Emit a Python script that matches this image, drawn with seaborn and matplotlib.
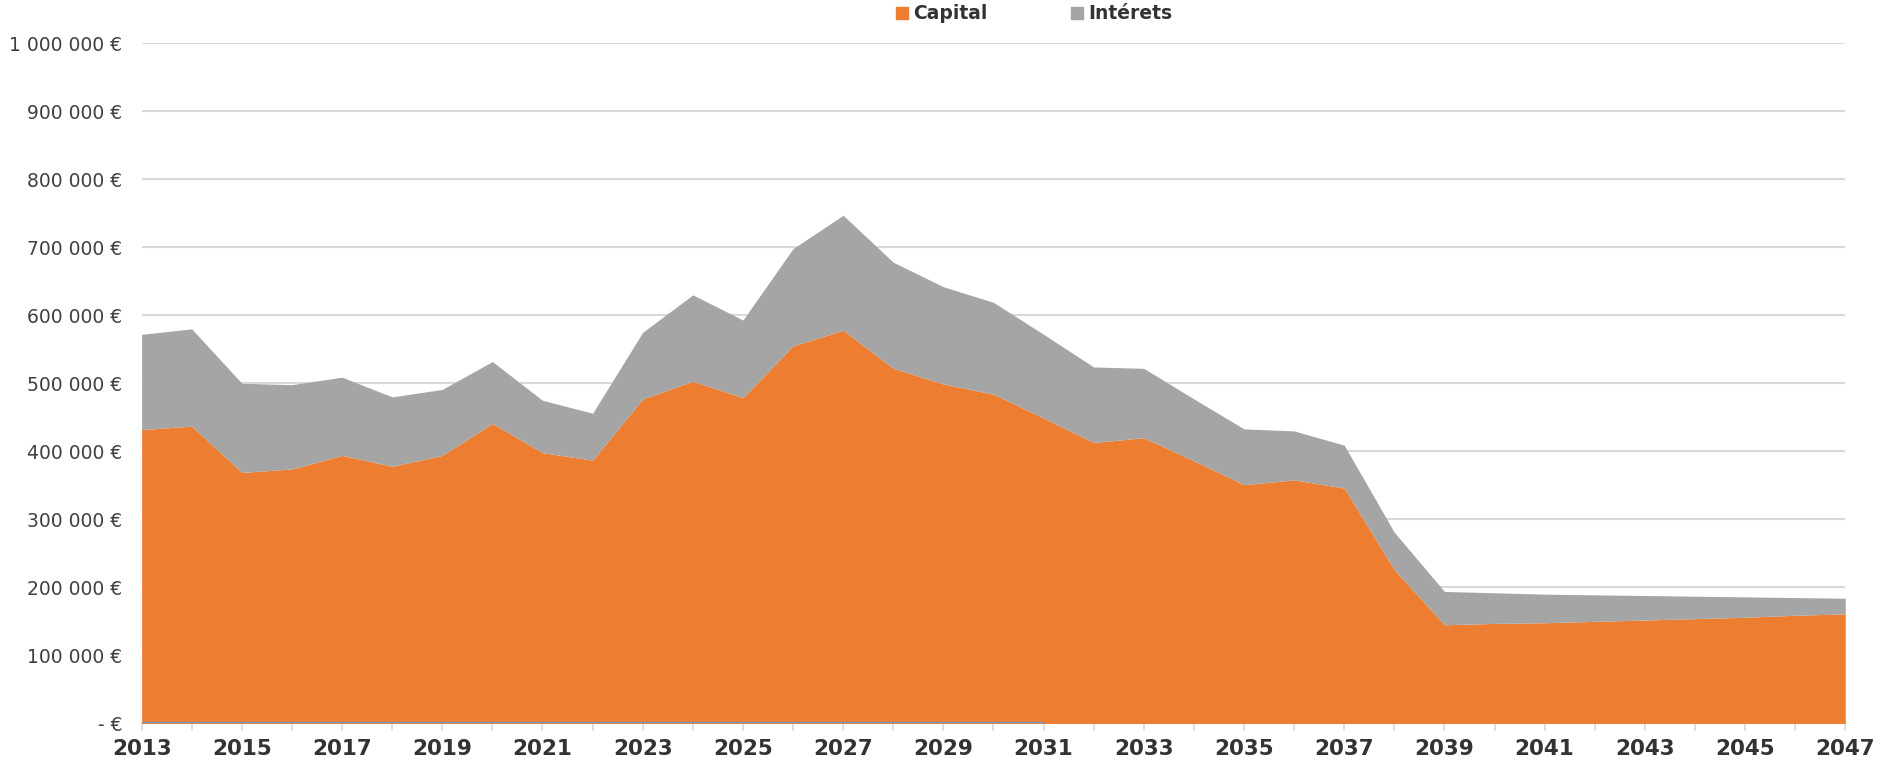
"""Stacked area: Capital / Intérets per year, 2013-2047"""

import numpy as np
import pandas as pd
import matplotlib

matplotlib.use("Agg")
import matplotlib.pyplot as plt
import matplotlib.ticker as mtick
from matplotlib.lines import Line2D
import seaborn as sns

##### data ####################################################################
years = list(range(2013, 2048))
capital = [
    432000, 437000, 369000, 374000, 394000, 378000, 394000, 441000, 398000,
    387000, 477000, 503000, 479000, 555000, 578000, 522000, 499000, 484000,
    449000, 413000, 420000, 386000, 351000, 358000, 346000, 226000, 145000,
    147000, 148000, 150000, 152000, 154000, 156000, 159000, 161000,
]
interets = [
    140000, 143000, 131000, 124000, 115000, 102000, 97000, 91000, 77000,
    69000, 98000, 127000, 114000, 143000, 169000, 156000, 143000, 135000,
    123000, 111000, 102000, 91000, 82000, 72000, 63000, 55000, 49000,
    45000, 42000, 39000, 36000, 33000, 30000, 26000, 23000,
]
# third series shown only as a flat blue line at zero up to 2031
autre_years = list(range(2013, 2032))
autre = [0] * len(autre_years)

COLOR_CAPITAL = "#ED7D31"
COLOR_INTERETS = "#A5A5A5"
COLOR_AUTRE = "#5B9BD5"
TEXT_COLOR = "#404040"


def euro_fmt(v, pos):
    if v == 0:
        return "- €"
    return f"{int(v):,} €".replace(",", " ")


def main():
    df = pd.DataFrame({"annee": years, "Capital": capital, "Intérets": interets})
    df_autre = pd.DataFrame({"annee": autre_years, "valeur": autre})

    sns.set_theme(style="white")
    plt.rcParams["font.family"] = ["DejaVu Sans"]

    fig = plt.figure(figsize=(18.81, 7.63), dpi=100)
    ax = fig.add_axes([0.0753, 0.0519, 0.9057, 0.8915])

    ax.stackplot(
        df["annee"],
        df["Capital"],
        df["Intérets"],
        colors=[COLOR_CAPITAL, COLOR_INTERETS],
        linewidth=0,
        zorder=2,
    )
    sns.lineplot(
        data=df_autre, x="annee", y="valeur", color=COLOR_AUTRE,
        linewidth=1.5, ax=ax, zorder=3,
    )

    ax.set_xlim(2013, 2047)
    ax.set_ylim(0, 1000000)
    ax.yaxis.set_major_locator(mtick.MultipleLocator(100000))
    ax.yaxis.set_major_formatter(mtick.FuncFormatter(euro_fmt))
    ax.set_xticks(years, minor=True)
    ax.set_xticks(years[::2])
    ax.set_xticklabels([str(y) for y in years[::2]])

    # grid + spines
    ax.grid(which="major", axis="y", color="#D9D9D9", linewidth=1.5, zorder=0)
    ax.set_axisbelow(True)
    sns.despine(ax=ax, left=True)
    ax.spines["bottom"].set_color("#D9D9D9")
    ax.spines["bottom"].set_linewidth(1.5)
    ax.spines["bottom"].set_zorder(1)

    ax.tick_params(axis="y", length=0, pad=14, labelsize=13.5, labelcolor=TEXT_COLOR)
    ax.tick_params(axis="x", which="both", bottom=True, length=6, width=1.2,
                   color="#D9D9D9", direction="out")
    ax.tick_params(axis="x", which="major", pad=5, labelsize=15.5, labelcolor="#333333")
    for lab in ax.get_xticklabels():
        lab.set_fontweight("bold")
    ax.set_xlabel("")
    ax.set_ylabel("")

    handles = [
        Line2D([], [], marker="s", linestyle="", color=COLOR_CAPITAL, markersize=8),
        Line2D([], [], marker="s", linestyle="", color=COLOR_INTERETS, markersize=8),
    ]
    fig.legend(
        handles,
        ["Capital", "Intérets"],
        loc="center",
        bbox_to_anchor=(0.549, 0.982),
        ncol=2,
        frameon=False,
        handletextpad=0.1,
        handlelength=1.0,
        columnspacing=4.3,
        prop={"weight": "bold", "size": 13.5},
        labelcolor="#333333",
    )

    fig.savefig("out.png", dpi=100)
    plt.close(fig)


if __name__ == "__main__":
    main()
